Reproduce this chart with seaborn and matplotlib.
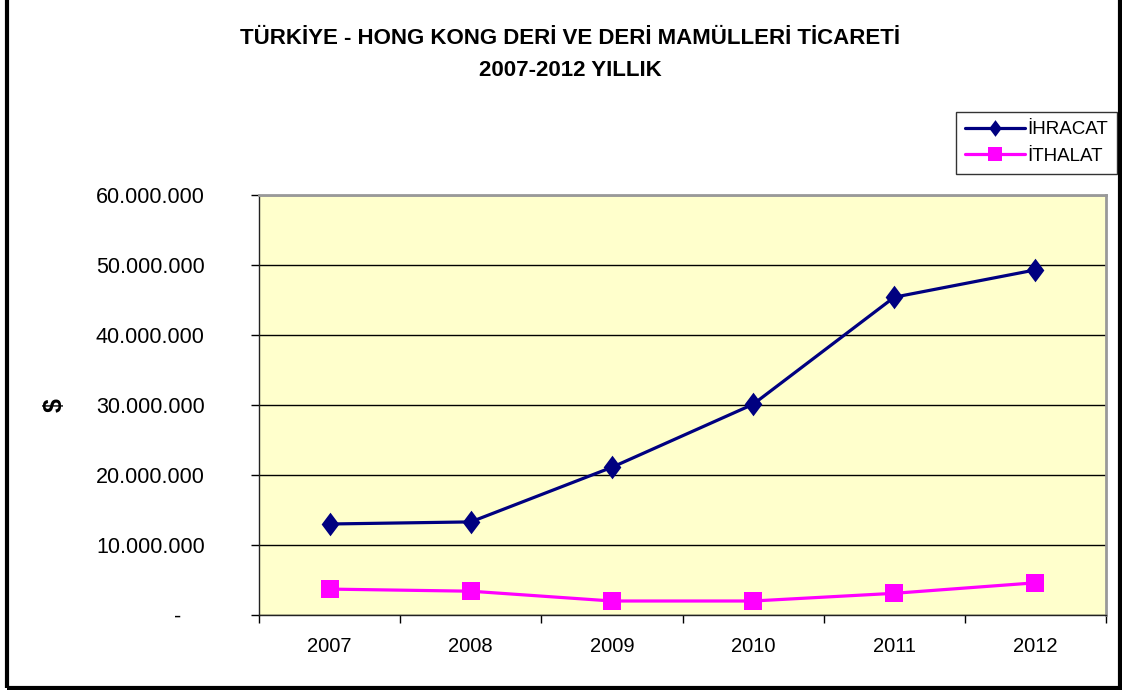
import matplotlib
matplotlib.use('Agg')
import matplotlib.pyplot as plt
import numpy as np
import pandas as pd
import seaborn as sns
from matplotlib.patches import Rectangle
from matplotlib.ticker import FixedLocator, FuncFormatter

# Veriler ($)
years = ['2007', '2008', '2009', '2010', '2011', '2012']
ihracat = [13.0e6, 13.3e6, 21.1e6, 30.1e6, 45.4e6, 49.3e6]
ithalat = [3.7e6, 3.4e6, 2.0e6, 2.0e6, 3.1e6, 4.6e6]
series_names = ['İHRACAT', 'İTHALAT']
title_lines = ['TÜRKİYE - HONG KONG DERİ VE DERİ MAMÜLLERİ TİCARETİ',
               '2007-2012 YILLIK']
y_ticks = [0, 10e6, 20e6, 30e6, 40e6, 50e6, 60e6]

df = pd.DataFrame({
    'Yil': years * 2,
    'Deger': ihracat + ithalat,
    'Seri': [series_names[0]] * len(years) + [series_names[1]] * len(years),
})

sns.set_style('white')
plt.rcParams['font.family'] = ['Liberation Sans', 'DejaVu Sans']
plt.rcParams['text.color'] = 'black'
plt.rcParams['xtick.color'] = 'black'
plt.rcParams['ytick.color'] = 'black'

fig = plt.figure(figsize=(11.22, 6.9), dpi=100)
ax = fig.add_axes([259 / 1122, 75 / 690, 847 / 1122, 420 / 690])
ax.set_facecolor('#FFFFCC')

# Excel tarzi elmas isaretci
diamond = np.array([[0, 1], [0.75, 0], [0, -1], [-0.75, 0], [0, 1]])

sns.lineplot(data=df, x='Yil', y='Deger', hue='Seri', style='Seri',
             palette={'İHRACAT': '#000080', 'İTHALAT': '#FF00FF'},
             markers={'İHRACAT': diamond, 'İTHALAT': 's'},
             dashes=False, sort=False, linewidth=2.3, markersize=17,
             markeredgewidth=0, ax=ax)
# kare isaretciler daha kucuk
for line in ax.lines:
    if tuple(matplotlib.colors.to_rgb(line.get_color())) == (1.0, 0.0, 1.0):
        line.set_markersize(13)

ax.set_ylim(0, 60e6)
ax.set_xlim(-0.5, len(years) - 0.5)
ax.set_yticks(y_ticks)
ax.yaxis.set_major_formatter(FuncFormatter(
    lambda v, p: '-    ' if v == 0 else f'{int(v):,}'.replace(',', '.')))
ax.grid(axis='y', color='black', linewidth=1)
ax.set_axisbelow(True)

# x ekseni: etiketler ortada, tik isaretleri sinirlarda
ax.xaxis.set_minor_locator(FixedLocator(np.arange(-0.5, len(years), 1.0)))
ax.tick_params(axis='x', which='major', length=0, pad=16, labelsize=14.5)
ax.tick_params(axis='x', which='minor', length=6, width=1, color='black',
               direction='out', bottom=True)
ax.tick_params(axis='y', length=6, width=1, color='black', direction='out',
               left=True, pad=33, labelsize=15.5)
ax.set_xlabel('')
ax.set_ylabel('')

for side in ['left', 'bottom']:
    ax.spines[side].set_color('#222222')
    ax.spines[side].set_linewidth(1)
for side in ['top', 'right']:
    ax.spines[side].set_color('#999999')
    ax.spines[side].set_linewidth(2)

handles, labels = ax.get_legend_handles_labels()
leg = ax.legend(handles, labels, loc='upper right',
                bbox_to_anchor=(1117 / 1122, 1 - 112 / 690),
                bbox_transform=fig.transFigure, frameon=True, fancybox=False,
                edgecolor='black', fontsize=13.5, handlelength=3.2,
                handletextpad=0.1, borderpad=0.5, labelspacing=0.5,
                borderaxespad=0)
leg.get_frame().set_linewidth(1)
for h in leg.legend_handles:
    h.set_markersize(12 if tuple(matplotlib.colors.to_rgb(h.get_color())) != (1.0, 0.0, 1.0) else 10)

fig.text(570 / 1122, 1 - 38 / 690, title_lines[0], ha='center', va='center',
         fontsize=16, fontweight='bold')
fig.text(570 / 1122, 1 - 70 / 690, title_lines[1], ha='center', va='center',
         fontsize=16, fontweight='bold')
fig.text(55 / 1122, 1 - 405 / 690, '$', rotation=90, ha='center',
         va='center', fontsize=18, fontweight='bold')

# dis cerceve
fig.patches.append(Rectangle((7 / 1122, 2 / 690), 1113 / 1122, 690 / 690,
                             transform=fig.transFigure, fill=False,
                             edgecolor='black', linewidth=3))

fig.savefig('out.png', dpi=100)
